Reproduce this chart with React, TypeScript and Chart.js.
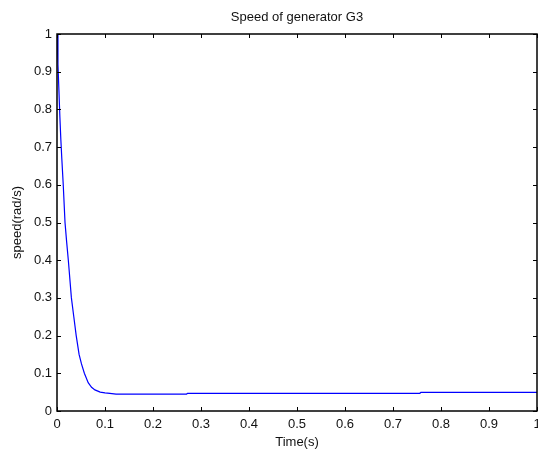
import React, { useEffect, useRef } from "react";
import { Chart, registerables } from "chart.js";

Chart.register(...registerables);

const chartTitle = "Speed of generator G3";
const xAxisTitle = "Time(s)";
const yAxisTitle = "speed(rad/s)";

const timeValues = [
  0, 0.002, 0.004, 0.006, 0.008, 0.01, 0.013, 0.0167, 0.02, 0.0236, 0.03, 0.035,
  0.04, 0.046, 0.051, 0.057, 0.065, 0.072, 0.079, 0.09, 0.1, 0.11, 0.123, 0.27,
  0.272, 0.756, 0.758, 1.0,
];
const speedValues = [
  1, 0.92, 0.85, 0.78, 0.72, 0.67, 0.6, 0.5, 0.45, 0.4, 0.3, 0.25,
  0.2, 0.15, 0.125, 0.1, 0.075, 0.063, 0.056, 0.05, 0.048, 0.047, 0.045, 0.045,
  0.047, 0.047, 0.0496, 0.0496,
];
const tickValues = [0, 0.1, 0.2, 0.3, 0.4, 0.5, 0.6, 0.7, 0.8, 0.9, 1];
const tickLabels = ["0", "0.1", "0.2", "0.3", "0.4", "0.5", "0.6", "0.7", "0.8", "0.9", "1"];

const FONT = "'Liberation Sans', Arial, sans-serif";

const framePlugin = {
  id: "matlabFrame",
  afterDatasetsDraw(chart: any) {
    const { ctx, chartArea, scales } = chart;
    const { left, right, top, bottom } = chartArea;
    ctx.save();
    ctx.strokeStyle = "#000";
    ctx.lineWidth = 1.5;
    ctx.strokeRect(left, top, right - left, bottom - top);
    ctx.lineWidth = 1;
    const len = 4;
    ctx.beginPath();
    tickValues.forEach((v) => {
      const x = Math.round(scales.x.getPixelForValue(v)) + 0.5;
      ctx.moveTo(x, bottom);
      ctx.lineTo(x, bottom - len);
      ctx.moveTo(x, top);
      ctx.lineTo(x, top + len);
      const y = Math.round(scales.y.getPixelForValue(v)) + 0.5;
      ctx.moveTo(left, y);
      ctx.lineTo(left + len, y);
      ctx.moveTo(right, y);
      ctx.lineTo(right - len, y);
    });
    ctx.stroke();
    ctx.fillStyle = "#111";
    ctx.font = `13px ${FONT}`;
    ctx.textAlign = "center";
    ctx.textBaseline = "alphabetic";
    ctx.fillText(chartTitle, (left + right) / 2, 21);
    ctx.restore();
  },
};

export default function App() {
  const ref = useRef<HTMLCanvasElement>(null);
  useEffect(() => {
    if (!ref.current) return;
    const points = timeValues.map((t, i) => ({ x: t, y: speedValues[i] }));
    const chart = new Chart(ref.current, {
      type: "line",
      data: {
        datasets: [
          {
            data: points,
            borderColor: "#0000ff",
            borderWidth: 1.2,
            pointRadius: 0,
            fill: false,
            tension: 0,
          },
        ],
      },
      options: {
        responsive: false,
        animation: false,
        layout: { autoPadding: false, padding: { top: 34, left: 0, right: 1, bottom: 0 } },
        plugins: { legend: { display: false }, title: { display: false }, tooltip: { enabled: false } },
        scales: {
          x: {
            type: "linear",
            min: 0,
            max: 1,
            afterFit: (s: any) => {
              s.height = 39;
              s.paddingLeft = 0;
              s.paddingRight = 0;
            },
            afterBuildTicks: (s: any) => {
              s.ticks = tickValues.map((v) => ({ value: v }));
            },
            ticks: {
              autoSkip: false,
              maxRotation: 0,
              padding: 6,
              color: "#111",
              font: { family: FONT, size: 13 },
              callback: (_v: any, i: number) => tickLabels[i],
            },
            grid: { display: false, drawTicks: false },
            border: { display: false },
            title: {
              display: true,
              text: xAxisTitle,
              color: "#111",
              font: { family: FONT, size: 13 },
              padding: { top: 0, bottom: 0 },
            },
          },
          y: {
            type: "linear",
            min: 0,
            max: 1,
            afterFit: (s: any) => {
              s.width = 57;
              s.paddingTop = 0;
              s.paddingBottom = 0;
            },
            afterBuildTicks: (s: any) => {
              s.ticks = tickValues.map((v) => ({ value: v }));
            },
            ticks: {
              autoSkip: false,
              padding: 5,
              color: "#111",
              font: { family: FONT, size: 13 },
              callback: (_v: any, i: number) => tickLabels[i],
            },
            grid: { display: false, drawTicks: false },
            border: { display: false },
            title: {
              display: true,
              text: yAxisTitle,
              color: "#111",
              font: { family: FONT, size: 13 },
              padding: { top: 10, bottom: 10 },
            },
          },
        },
      },
      plugins: [framePlugin],
    });
    return () => chart.destroy();
  }, []);
  return (
    <canvas
      ref={ref}
      width={538}
      height={450}
      style={{ position: "fixed", left: 0, top: 0, width: 538, height: 450, background: "#fff" }}
    />
  );
}
